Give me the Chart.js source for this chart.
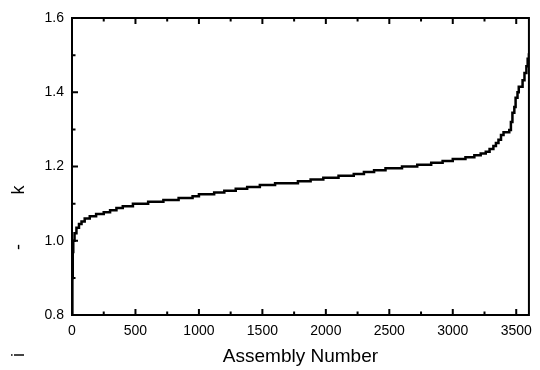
<!DOCTYPE html>
<html lang="en">
<head>
<meta charset="UTF-8">
<title>k vs Assembly Number</title>
<script src="https://cdn.jsdelivr.net/npm/chart.js"></script>
<style>
  html, body { margin: 0; padding: 0; background: #fff; }
  #wrap { width: 540px; height: 370px; }
</style>
</head>
<body>
<div id="wrap"><canvas id="kChart" width="540" height="370"></canvas></div>
<script>
// sorted k per assembly (step points)
const assemblyNo = [0, 3, 6, 10, 20, 35, 55, 75, 100, 140, 190, 250, 300, 350, 400, 480,
    600, 720, 840, 950, 1000, 1120, 1200, 1290, 1380, 1480, 1600, 1780, 1880, 1980,
    2100, 2220, 2300, 2380, 2470, 2600, 2720, 2830, 2920, 3000, 3100, 3170, 3220, 3260,
    3290, 3320, 3340, 3360, 3380, 3400, 3445, 3458, 3470, 3485, 3495, 3510, 3520, 3550,
    3565, 3580, 3590, 3600];
const kValue = [0.80, 0.90, 0.97, 1.000, 1.020, 1.035, 1.045, 1.052, 1.060, 1.066, 1.072, 1.077, 1.082, 1.088, 1.093, 1.100,
    1.105, 1.110, 1.115, 1.120, 1.125, 1.130, 1.135, 1.140, 1.145, 1.150, 1.155, 1.160, 1.165, 1.170,
    1.175, 1.180, 1.185, 1.190, 1.195, 1.200, 1.205, 1.210, 1.215, 1.220, 1.225, 1.230, 1.235, 1.240,
    1.247, 1.255, 1.263, 1.272, 1.285, 1.292, 1.298, 1.320, 1.345, 1.360, 1.385, 1.400, 1.415, 1.432,
    1.452, 1.470, 1.490, 1.505];

const xTickValues = [0, 500, 1000, 1500, 2000, 2500, 3000, 3500];
const yTickValues = [0.8, 1.0, 1.2, 1.4, 1.6];
const xTitle = "Assembly Number";
const yTitleParts = ["k", "-", "i"];

const FONT = "'Liberation Sans', Arial, sans-serif";

// box frame + inward tick marks + odd y title
const framePlugin = {
    id: "frame",
    afterDraw(chart) {
        const { ctx, chartArea: a, scales: { x, y } } = chart;
        ctx.save();
        ctx.strokeStyle = "#000";
        ctx.lineWidth = 2;
        ctx.strokeRect(a.left, a.top, a.right - a.left, a.bottom - a.top);

        ctx.beginPath();
        for (let v = 0; v <= 3600; v += 250) {
            const px = x.getPixelForValue(v);
            const len = v % 500 === 0 ? 6 : 3.5;
            ctx.moveTo(px, a.bottom); ctx.lineTo(px, a.bottom - len);
            ctx.moveTo(px, a.top); ctx.lineTo(px, a.top + len);
        }
        for (let i = 0; i <= 8; i++) {
            const v = 0.8 + i * 0.1;
            const py = y.getPixelForValue(v);
            const len = i % 2 === 0 ? 6 : 3.5;
            ctx.moveTo(a.left, py); ctx.lineTo(a.left + len, py);
        }
        ctx.stroke();

        // y axis title, broken up like the original
        ctx.fillStyle = "#000";
        ctx.font = "18px " + FONT;
        ctx.textAlign = "center";
        ctx.textBaseline = "middle";
        const spots = [[19, 190], [19, 247], [19, 355]];
        yTitleParts.forEach((t, i) => {
            ctx.save();
            ctx.translate(spots[i][0], spots[i][1]);
            ctx.rotate(-Math.PI / 2);
            ctx.fillText(t, 0, 0);
            ctx.restore();
        });
        ctx.restore();
    }
};

const ctx = document.getElementById("kChart").getContext("2d");
new Chart(ctx, {
    type: "line",
    data: {
        datasets: [{
            data: assemblyNo.map((n, i) => ({ x: n, y: kValue[i] })),
            stepped: true,
            borderColor: "#000",
            borderWidth: 2.5,
            pointRadius: 0,
            fill: false
        }]
    },
    options: {
        responsive: false,
        animation: false,
        layout: { padding: { top: 18, right: 7, left: 0, bottom: 0 } },
        plugins: { legend: { display: false }, tooltip: { enabled: false } },
        scales: {
            x: {
                type: "linear",
                min: 0,
                max: 3600,
                afterBuildTicks: s => { s.ticks = xTickValues.map(v => ({ value: v })); },
                afterFit: s => { s.height = 55; },
                grid: { display: false, drawTicks: false },
                border: { display: false },
                ticks: {
                    autoSkip: false,
                    padding: 8,
                    color: "#000",
                    maxRotation: 0,
                    font: { family: FONT, size: 14 },
                    callback: v => String(v)
                },
                title: {
                    display: true,
                    text: xTitle,
                    color: "#000",
                    font: { family: FONT, size: 19 },
                    padding: { top: 0, bottom: 2 }
                }
            },
            y: {
                min: 0.8,
                max: 1.6,
                afterBuildTicks: s => { s.ticks = yTickValues.map(v => ({ value: v })); },
                afterFit: s => { s.width = 72; },
                grid: { display: false, drawTicks: false },
                border: { display: false },
                ticks: {
                    padding: 8,
                    color: "#000",
                    font: { family: FONT, size: 14 },
                    callback: v => v.toFixed(1)
                }
            }
        }
    },
    plugins: [framePlugin]
});
</script>
</body>
</html>
